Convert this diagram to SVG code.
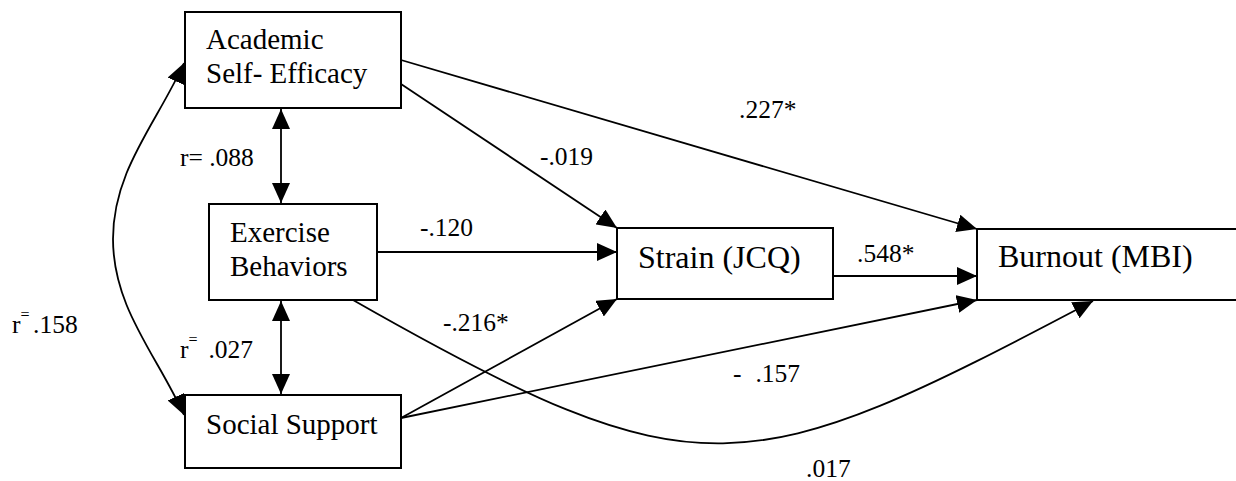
<svg xmlns="http://www.w3.org/2000/svg" width="1236" height="481" viewBox="0 0 1236 481">
  <style>
    text { font-family: "Times New Roman", "Liberation Serif", Tinos, "DejaVu Serif", serif; fill: #000000; }
    .box { fill: #ffffff; stroke: #000000; stroke-width: 2; }
    .node { font-size: 29px; }
    .node-lg { font-size: 32px; }
    .lbl { font-size: 25.5px; }
    .edge { fill: none; stroke: #000000; stroke-width: 1.8; }
    .arrow { marker-end: url(#head); }
    .both { marker-start: url(#head); marker-end: url(#head); }
  </style>
  <defs>
    <marker id="head" markerUnits="userSpaceOnUse" markerWidth="20" markerHeight="18" refX="20" refY="9" orient="auto-start-reverse" viewBox="0 0 20 18">
      <path d="M0,0 L20,9 L0,18 Z" fill="#000000"/>
    </marker>
  </defs>

  <rect width="1236" height="481" fill="#ffffff"/>

  <!-- paths and correlations -->
  <g id="connectors">
    <!-- correlations between predictors -->
    <line class="edge both" x1="281" y1="109" x2="281" y2="203"/>
    <line class="edge both" x1="281" y1="301" x2="281" y2="394"/>
    <path class="edge both" d="M184,63 C157,123 113,170 113,239 C113,308 157,355 184,415"/>

    <!-- paths to Strain -->
    <line class="edge arrow" x1="401" y1="84" x2="617" y2="228"/>
    <line class="edge arrow" x1="377" y1="252" x2="617" y2="252"/>
    <line class="edge arrow" x1="401" y1="418" x2="617" y2="299"/>

    <!-- paths to Burnout -->
    <line class="edge arrow" x1="401" y1="60" x2="977" y2="229"/>
    <line class="edge arrow" x1="833" y1="276" x2="977" y2="276"/>
    <line class="edge arrow" x1="401" y1="418" x2="977" y2="300"/>
    <path class="edge arrow" d="M353,300 C700,498 746,484 1093,301"/>
  </g>

  <!-- path coefficients -->
  <g id="labels">
    <text class="lbl" x="180" y="166">r= .088</text>
    <text class="lbl" x="12" y="333">r<tspan font-size="16" dy="-13">=</tspan><tspan x="33" dy="13">.158</tspan></text>
    <text class="lbl" x="180" y="358">r<tspan font-size="16" dy="-13">=</tspan><tspan x="202" dy="13"> .027</tspan></text>
    <text class="lbl" x="739" y="118">.227*</text>
    <text class="lbl" x="540" y="165">-.019</text>
    <text class="lbl" x="420" y="236">-.120</text>
    <text class="lbl" x="443" y="331">-.216*</text>
    <text class="lbl" x="857" y="262">.548*</text>
    <text class="lbl" x="733" y="382">-<tspan x="749"> .157</tspan></text>
    <text class="lbl" x="806" y="477">.017</text>
  </g>

  <g id="academic-self-efficacy">
    <rect class="box" x="185" y="12" width="216" height="96"/>
    <text class="node" x="206" y="49">Academic</text>
    <text class="node" x="206" y="83">Self- Efficacy</text>
  </g>

  <g id="exercise-behaviors">
    <rect class="box" x="209" y="204" width="168" height="96"/>
    <text class="node" x="230" y="242">Exercise</text>
    <text class="node" x="230" y="276">Behaviors</text>
  </g>

  <g id="social-support">
    <rect class="box" x="185" y="395" width="216" height="73"/>
    <text class="node" x="206" y="434">Social Support</text>
  </g>

  <g id="strain">
    <rect class="box" x="617" y="228" width="216" height="71"/>
    <text class="node-lg" x="638" y="268">Strain (JCQ)</text>
  </g>

  <g id="burnout">
    <rect class="box" x="977" y="229" width="270" height="71"/>
    <text class="node-lg" x="998" y="267">Burnout (MBI)</text>
  </g>
</svg>
